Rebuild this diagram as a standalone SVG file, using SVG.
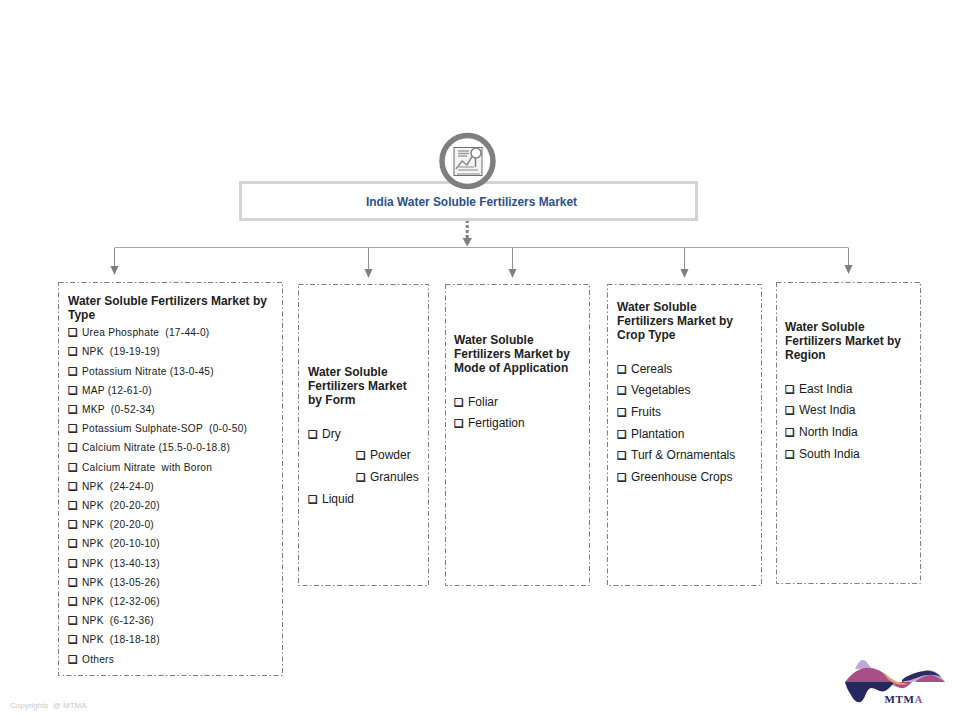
<svg xmlns="http://www.w3.org/2000/svg" width="960" height="720" viewBox="0 0 960 720">
<style>
text{font-family:"Liberation Sans",Arial,sans-serif;fill:#1a1a1a;white-space:pre}
.box{fill:#fff;stroke:#6e6e6e;stroke-width:.9;stroke-dasharray:5 2.5 1.5 2.5}
.h{font-size:12px;font-weight:bold;fill:#222}
.s{font-size:10.2px;letter-spacing:.25px}
.m{font-size:12px}
.c{font-family:"DejaVu Sans",sans-serif;font-size:10.5px;fill:#111;stroke:#111;stroke-width:.35}
.line{fill:none;stroke:#a6a6a6;stroke-width:1}
</style>
<rect width="960" height="720" fill="#fff"/>
<g id="connectors">
<path class="line" d="M114.500 247.500H848.500"/>
<path fill="none" stroke="#8f8f8f" d="M114.500 248V268M368.500 248V271M512.500 248V271M684.500 248V271M848.500 248V267"/>
<g fill="#7f7f7f" stroke="none">
<path d="M110.500 266H118.500L114.500 275Z"/><path d="M364.500 269H372.500L368.500 278Z"/><path d="M508.500 269H516.500L512.500 278Z"/><path d="M680.500 269H688.500L684.500 278Z"/><path d="M844.500 265H852.500L848.500 274Z"/>
<path d="M462.500 238H472L467.200 246.500Z"/>
</g>
<path d="M467.200 220V238" fill="none" stroke="#7f7f7f" stroke-width="3" stroke-dasharray="3 2"/>
</g>
<g id="root">
<rect x="240.500" y="182.500" width="456" height="37" fill="#fff" stroke="#d4d4d4" stroke-width="3"/>
<text x="471.500" y="205.500" text-anchor="middle" font-size="11.900" font-weight="bold" style="fill:#2f5089">India Water Soluble Fertilizers Market</text>
</g>
<g id="icon">
<circle cx="467.500" cy="161" r="25.500" fill="#fff" stroke="#7f7f7f" stroke-width="5.500"/>
<rect x="454" y="147.500" width="28" height="28" fill="#f4f4f4" stroke="#6e6e6e" stroke-width="1"/>
<path d="M456 169 462 161 467 165 473 155" fill="none" stroke="#8a8a8a" stroke-width="1.500"/>
<path d="M458 151H469M458 153.500H469M458 156H467" stroke="#a0a0a0" stroke-width="1.300"/>
<circle cx="476" cy="153" r="5" fill="#fff" stroke="#7f7f7f" stroke-width="1.500"/>
<path d="M475.500 158V167" stroke="#7f7f7f" stroke-width="1.500"/>
<path d="M458 170H478M457 174H480M459 167H474" stroke="#8a8a8a" stroke-width="1.200"/>
</g>
<g id="type">
<rect class="box" x="58.500" y="282.500" width="224" height="393"/>
<text class="h" x="68" y="305">Water Soluble Fertilizers Market by</text>
<text class="h" x="68" y="319">Type</text>
<text class="c" x="68" y="336">❑</text><text class="s" x="82" y="336">Urea Phosphate  (17-44-0)</text>
<text class="c" x="68" y="355">❑</text><text class="s" x="82" y="355">NPK  (19-19-19)</text>
<text class="c" x="68" y="375">❑</text><text class="s" x="82" y="375">Potassium Nitrate (13-0-45)</text>
<text class="c" x="68" y="394">❑</text><text class="s" x="82" y="394">MAP (12-61-0)</text>
<text class="c" x="68" y="413">❑</text><text class="s" x="82" y="413">MKP  (0-52-34)</text>
<text class="c" x="68" y="432">❑</text><text class="s" x="82" y="432">Potassium Sulphate-SOP  (0-0-50)</text>
<text class="c" x="68" y="451">❑</text><text class="s" x="82" y="451">Calcium Nitrate (15.5-0-0-18.8)</text>
<text class="c" x="68" y="471">❑</text><text class="s" x="82" y="471">Calcium Nitrate  with Boron</text>
<text class="c" x="68" y="490">❑</text><text class="s" x="82" y="490">NPK  (24-24-0)</text>
<text class="c" x="68" y="509">❑</text><text class="s" x="82" y="509">NPK  (20-20-20)</text>
<text class="c" x="68" y="528">❑</text><text class="s" x="82" y="528">NPK  (20-20-0)</text>
<text class="c" x="68" y="547">❑</text><text class="s" x="82" y="547">NPK  (20-10-10)</text>
<text class="c" x="68" y="567">❑</text><text class="s" x="82" y="567">NPK  (13-40-13)</text>
<text class="c" x="68" y="586">❑</text><text class="s" x="82" y="586">NPK  (13-05-26)</text>
<text class="c" x="68" y="605">❑</text><text class="s" x="82" y="605">NPK  (12-32-06)</text>
<text class="c" x="68" y="624">❑</text><text class="s" x="82" y="624">NPK  (6-12-36)</text>
<text class="c" x="68" y="643">❑</text><text class="s" x="82" y="643">NPK  (18-18-18)</text>
<text class="c" x="68" y="663">❑</text><text class="s" x="82" y="663">Others</text>
</g>
<g id="form">
<rect class="box" x="298.500" y="284.500" width="130" height="301"/>
<text class="h" x="308" y="376">Water Soluble</text>
<text class="h" x="308" y="390">Fertilizers Market</text>
<text class="h" x="308" y="404">by Form</text>
<text class="c" x="308" y="438">❑</text><text class="m" x="322" y="438">Dry</text>
<text class="c" x="356" y="459">❑</text><text class="m" x="370" y="459">Powder</text>
<text class="c" x="356" y="481">❑</text><text class="m" x="370" y="481">Granules</text>
<text class="c" x="308" y="503">❑</text><text class="m" x="322" y="503">Liquid</text>
</g>
<g id="application">
<rect class="box" x="445.500" y="284.500" width="144" height="301"/>
<text class="h" x="454" y="344">Water Soluble</text>
<text class="h" x="454" y="358">Fertilizers Market by</text>
<text class="h" x="454" y="372">Mode of Application</text>
<text class="c" x="454" y="406">❑</text><text class="m" x="468" y="406">Foliar</text>
<text class="c" x="454" y="427">❑</text><text class="m" x="468" y="427">Fertigation</text>
</g>
<g id="crop">
<rect class="box" x="607.500" y="284.500" width="154" height="301"/>
<text class="h" x="617" y="311">Water Soluble</text>
<text class="h" x="617" y="325">Fertilizers Market by</text>
<text class="h" x="617" y="339">Crop Type</text>
<text class="c" x="617" y="373">❑</text><text class="m" x="631" y="373">Cereals</text>
<text class="c" x="617" y="394">❑</text><text class="m" x="631" y="394">Vegetables</text>
<text class="c" x="617" y="416">❑</text><text class="m" x="631" y="416">Fruits</text>
<text class="c" x="617" y="438">❑</text><text class="m" x="631" y="438">Plantation</text>
<text class="c" x="617" y="459">❑</text><text class="m" x="631" y="459">Turf &amp; Ornamentals</text>
<text class="c" x="617" y="481">❑</text><text class="m" x="631" y="481">Greenhouse Crops</text>
</g>
<g id="region">
<rect class="box" x="776.500" y="282.500" width="144" height="301"/>
<text class="h" x="785" y="331">Water Soluble</text>
<text class="h" x="785" y="345">Fertilizers Market by</text>
<text class="h" x="785" y="359">Region</text>
<text class="c" x="785" y="393">❑</text><text class="m" x="799" y="393">East India</text>
<text class="c" x="785" y="414">❑</text><text class="m" x="799" y="414">West India</text>
<text class="c" x="785" y="436">❑</text><text class="m" x="799" y="436">North India</text>
<text class="c" x="785" y="458">❑</text><text class="m" x="799" y="458">South India</text>
</g>
<g id="logo">
<path d="M855 669C858 663 860 660 863 660C867 660 868 666 872 668C880 670 886 674 891 680C895 685 899 688 904 687C896 690 886 682 880 676C872 671 864 669 855 669Z" fill="#c0a8d6"/>
<path d="M904 684C910 676 918 671 928 670C936 670 941 676 945 682H930C922 678 914 682 904 684Z" fill="#c0a8d6"/>
<path d="M845 682C850 676 855 671 860 669.500C866 667 874 668 880 671C886 674 890 678 893 682Z" fill="#a84f86"/>
<path d="M845 682H895C891 686 889 689 885 691C880 693 876 688 871 688C866 689 866 697 862 701C858 704 854 701 851 695C848 691 846 686 845 682Z" fill="#27265f"/>
<path d="M902 680C906 676 915 672 925 671C931 670 936 672 941 677C934 674 927 674 919 677C913 679 908 681 902 682Z" fill="#2c2a63"/>
<path d="M915 682C920 678 926 675 931 675C936 676 941 679 945 682Z" fill="#a84f86"/>
<path d="M892 682H912C908 686 904 689 901 688C897 687 894 685 892 682Z" fill="#a84f86"/>
<path d="M882 672C888 675 892 680 898 682L908 684C902 686 893 684 888 679Z" fill="#eda06e"/>
<text x="884.500" y="703" font-size="11" font-weight="bold" style="font-family:'Liberation Serif',serif;fill:#27265f;letter-spacing:.6px">MTM<tspan style="fill:#9b4fd0">A</tspan></text>
</g>
<text id="copyright" x="10" y="708" font-size="8" style="fill:#c9c9c9">Copyrights  @ MTMA</text>
</svg>
